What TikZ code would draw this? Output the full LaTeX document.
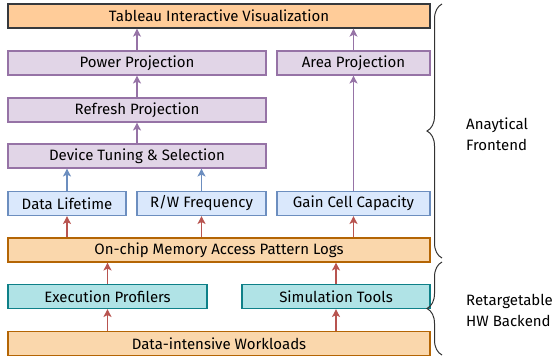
\documentclass[tikz,border=0pt]{standalone}
\usepackage{fontspec}
\setmainfont{Fira Sans}
\usetikzlibrary{arrows.meta,decorations.pathreplacing}
\definecolor{tabfill}{HTML}{FFCC99}
\definecolor{tabdraw}{HTML}{36393D}
\definecolor{orfill}{HTML}{FAD7AC}
\definecolor{ordraw}{HTML}{B46504}
\definecolor{pufill}{HTML}{E1D5E7}
\definecolor{pudraw}{HTML}{9673A6}
\definecolor{blfill}{HTML}{DAE8FC}
\definecolor{bldraw}{HTML}{6C8EBF}
\definecolor{tefill}{HTML}{B0E3E6}
\definecolor{tedraw}{HTML}{0E8088}
\definecolor{redarr}{HTML}{B85450}
\begin{document}
\begin{tikzpicture}[x=1pt,y=-1pt,
  font=\fontsize{15}{18}\selectfont,
  box/.style={rectangle,inner sep=0pt,line width=1.1pt,minimum height=24pt},
  tabbox/.style={box,fill=tabfill,draw=tabdraw,line width=1.3pt},
  orbox/.style={box,fill=orfill,draw=ordraw},
  pubox/.style={box,fill=pufill,draw=pudraw},
  blbox/.style={box,fill=blfill,draw=bldraw},
  tebox/.style={box,fill=tefill,draw=tedraw},
  arr/.style={line width=1.2pt,-{Stealth[length=8pt,width=8pt,inset=2pt]}},
  brc/.style={decorate,decoration={brace,amplitude=15pt,mirror},line width=1pt,draw=black!80},
  lbl/.style={align=left,anchor=west,inner sep=0pt,font=\fontsize{15}{21}\selectfont}]
\useasboundingbox (0,0) rectangle (555,362);
\node[tabbox,minimum width=422pt] (tab) at (219,16) {Tableau Interactive Visualization};
\node[pubox,minimum width=258pt] (pow) at (137,63) {Power Projection};
\node[pubox,minimum width=153pt] (area) at (353.5,63) {Area Projection};
\node[pubox,minimum width=258pt] (ref) at (137,110) {Refresh Projection};
\node[pubox,minimum width=258pt] (dev) at (137,156) {Device Tuning \& Selection};
\node[blbox,minimum width=118pt] (dl) at (67,203.5) {Data Lifetime};
\node[blbox,minimum width=129pt] (rw) at (201.5,203.5) {R/W Frequency};
\node[blbox,minimum width=153pt] (gc) at (353.5,203.5) {Gain Cell Capacity};
\node[orbox,minimum width=422pt] (oc) at (219,250) {On-chip Memory Access Pattern Logs};
\node[tebox,minimum width=199pt] (ex) at (107.5,296.5) {Execution Profilers};
\node[tebox,minimum width=188pt] (sim) at (336,296.5) {Simulation Tools};
\node[orbox,minimum width=422pt] (dw) at (219,343.5) {Data-intensive Workloads};
% purple arrows
\draw[arr,draw=pudraw,fill=pudraw] (pow.north) -- (pow.north |- tab.south);
\draw[arr,draw=pudraw,fill=pudraw] (area.north) -- (area.north |- tab.south);
\draw[arr,draw=pudraw,fill=pudraw] (ref) -- (pow);
\draw[arr,draw=pudraw,fill=pudraw] (ref.south |- dev.north) -- (ref.south);
\draw[arr,draw=pudraw,fill=pudraw] (gc.north) -- (area.south);
% blue arrows
\draw[arr,draw=bldraw,fill=bldraw] (dl.north) -- (dl.north |- dev.south);
\draw[arr,draw=bldraw,fill=bldraw] (rw.north) -- (rw.north |- dev.south);
% red arrows
\draw[arr,draw=redarr,fill=redarr] (dl.south |- oc.north) -- (dl.south);
\draw[arr,draw=redarr,fill=redarr] (rw.south |- oc.north) -- (rw.south);
\draw[arr,draw=redarr,fill=redarr] (gc.south |- oc.north) -- (gc.south);
\draw[arr,draw=redarr,fill=redarr] (ex.north) -- (ex.north |- oc.south);
\draw[arr,draw=redarr,fill=redarr] (sim.north) -- (sim.north |- oc.south);
\draw[arr,draw=redarr,fill=redarr] (ex.south |- dw.north) -- (ex.south);
\draw[arr,draw=redarr,fill=redarr] (sim.south |- dw.north) -- (sim.south);
% braces
\coordinate (b1t) at (442,4);
\coordinate (b1b) at (442,258);
\coordinate (b2t) at (442,262);
\coordinate (b2b) at (442,355);
\draw[brc] (b1t) -- (b1b);
\draw[brc] (b2t) -- (b2b);
\node[lbl] (fe) at (466,134) {Anaytical\\Frontend};
\node[lbl] (be) at (466,310) {Retargetable\\HW Backend};
\end{tikzpicture}
\end{document}
